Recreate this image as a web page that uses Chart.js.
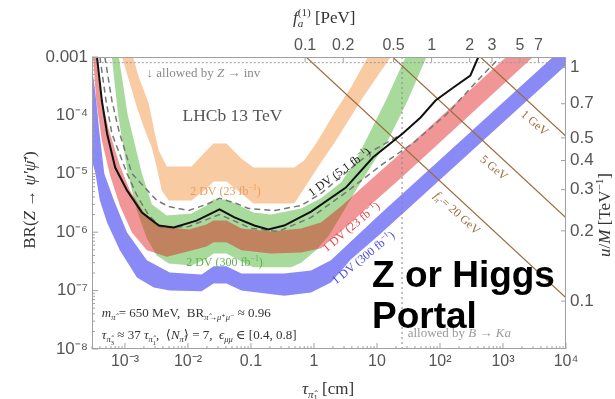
<!DOCTYPE html>
<html>
<head>
<meta charset="utf-8">
<script src="https://cdn.jsdelivr.net/npm/chart.js@4.4.1/dist/chart.umd.min.js"></script>
<style>
  html, body { margin: 0; padding: 0; background: #fff; }
  #wrap { position: relative; width: 615px; height: 399px; }
  #portal { position: absolute; left: 372px; top: 254px; font: bold 37px/41px "Liberation Sans", Arial, sans-serif; color: #000; }
</style>
</head>
<body>
<div id="wrap">
  <canvas id="chart" width="615" height="399"></canvas>
  <div id="portal">Z or Higgs<br>Portal</div>
</div>
<script>
(function(){
  // axis ranges and the two secondary-axis relations
  const TAU_MIN = 3.2e-4, TAU_MAX = 1e4;     // cm
  const BR_MIN = 1e-8, BR_MAX = 1e-3;
  const TAU_PER_FA2 = 75;     // tau [cm] at f_a = 1 PeV  (tau ~ f_a^2)
  const BR_AT_UM1 = 6.6e-4;   // BR at u/M = 1 TeV^-1    (BR ~ (u/M)^4)

  const tauTicks = [1e-3, 1e-2, 0.1, 1, 10, 100, 1e3, 1e4];
  const tauTickLabels = ['10⁻³', '10⁻²', '0.1', '1', '10', '10²', '10³', '10⁴'];
  const brTicks = [1e-8, 1e-7, 1e-6, 1e-5, 1e-4, 1e-3];
  const brTickLabels = ['10⁻⁸', '10⁻⁷', '10⁻⁶', '10⁻⁵', '10⁻⁴', '0.001'];
  const faTicks = [0.1, 0.2, 0.5, 1, 2, 3, 5, 7];
  const faTickLabels = ['0.1', '0.2', '0.5', '1', '2', '3', '5', '7'];
  const umTicks = [0.1, 0.2, 0.3, 0.4, 0.5, 0.7, 1];
  const umTickLabels = ['0.1', '0.2', '0.3', '0.4', '0.5', '0.7', '1'];

  // bands: [tau (cm), BR] along lower and upper edge, left to right
  const dv2Lumi23Lower = [[9.0e-4,1e-3],[1.2e-3,3.5e-4],[1.55e-3,1.36e-4],[2.0e-3,6.2e-5],[2.67e-3,2.8e-5],[3.2e-3,1.28e-5],[3.84e-3,5.2e-6],[4.96e-3,3.5e-6],[1.14e-2,3.5e-6],[1.97e-2,5.6e-6],[2.55e-2,7.4e-6],[4.09e-2,7.4e-6],[7.05e-2,4.6e-6],[0.109,3.1e-6],[0.485,3.1e-6],[0.698,5.6e-6],[1.2,1.39e-5],[2.23,3.7e-5],[5.97,2.03e-4],[16.5,1e-3]];
  const dv2Lumi23Upper = [[1.34e-3,1e-3],[1.66e-3,4.5e-4],[2.39e-3,1.6e-4],[2.98e-3,4.9e-5],[3.44e-3,2.5e-5],[4.61e-3,1.33e-5],[1.14e-2,1.33e-5],[1.97e-2,2.5e-5],[2.55e-2,3.3e-5],[4.09e-2,3.3e-5],[7.05e-2,1.83e-5],[0.109,1.28e-5],[0.485,1.28e-5],[0.698,1.69e-5],[1.08,3.3e-5],[2.23,1.21e-4],[3.85,3.0e-4],[7.16,1e-3]];

  const dv2Lumi300Lower = [[6.2e-4,1e-3],[7.8e-4,1e-4],[1.11e-3,1.01e-5],[1.55e-3,2.35e-6],[2.23e-3,7.8e-7],[3.2e-3,4.0e-7],[4.96e-3,2.9e-7],[1.14e-2,2.7e-7],[1.97e-2,3.5e-7],[2.55e-2,4.3e-7],[4.09e-2,4.3e-7],[7.05e-2,3.15e-7],[0.109,2.5e-7],[0.435,2.5e-7],[0.625,3.0e-7],[1.08,4.9e-7],[1.73,8.8e-7],[2.68,1.93e-6],[4.62,5.2e-6],[7.98,1.33e-5],[15.4,4.0e-5],[30.7,1.8e-4],[61.2,1e-3]];
  const dv2Lumi300Upper = [[8.0e-4,1e-3],[1.11e-3,1.0e-4],[1.86e-3,1.01e-5],[2.67e-3,3.0e-6],[4.61e-3,1.93e-6],[1.14e-2,2.09e-6],[1.97e-2,2.86e-6],[2.55e-2,3.63e-6],[4.09e-2,3.63e-6],[7.05e-2,2.75e-6],[0.109,2.17e-6],[0.21,2.01e-6],[0.625,2.55e-6],[1.29,3.8e-6],[2.68,7.1e-6],[4.62,1.69e-5],[6.65,3.7e-5],[13.8,1.8e-4],[28.5,1e-3]];

  const dv1Lumi23Lower = [[3.12e-4,1e-3],[3.5e-4,1.8e-4],[4.3e-4,3.7e-5],[5.8e-4,9.4e-6],[8.3e-4,2.86e-6],[1.29e-3,9.9e-7],[2.23e-3,4.9e-7],[4.61e-3,3.8e-7],[1.03e-2,4.7e-7],[1.97e-2,5.7e-7],[2.55e-2,6.7e-7],[4.09e-2,6.7e-7],[7.05e-2,4.9e-7],[0.21,4.3e-7],[0.625,4.5e-7],[1.29,5.3e-7],[2.68,1.03e-6],[7.42,2.75e-6],[25.6,9.0e-6],[3000,1e-3]];
  const dv1Lumi23Upper = [[3.6e-4,1e-3],[4.3e-4,1.8e-4],[5.6e-4,5.5e-5],[8.3e-4,1.39e-5],[1.2e-3,5.2e-6],[2.0e-3,2.17e-6],[3.84e-3,1.25e-6],[1.03e-2,1.11e-6],[1.97e-2,1.36e-6],[2.55e-2,1.58e-6],[4.09e-2,1.58e-6],[7.05e-2,1.16e-6],[0.21,1.03e-6],[0.625,1.16e-6],[1.29,1.47e-6],[2.68,2.75e-6],[7.42,7.4e-6],[25.6,2.4e-5],[1125,1e-3]];

  const dv1Lumi300Lower = [[3.0e-4,1.69e-5],[3.4e-4,1.01e-5],[4.0e-4,3.5e-6],[5.2e-4,1.47e-6],[8.3e-4,4.9e-7],[1.55e-3,1.68e-7],[2.87e-3,1.13e-7],[5.14e-3,1.0e-7],[1.65e-2,9.7e-8],[2.55e-2,1.32e-7],[4.09e-2,1.32e-7],[7.05e-2,1.0e-7],[0.337,8.2e-8],[0.9,9.3e-8],[1.86,1.38e-7],[3.85,3.4e-7],[11.5,9.5e-7],[1.4e4,1e-3]];
  const dv1Lumi300Upper = [[3.0e-4,5.9e-4],[3.2e-4,4.0e-4],[3.5e-4,1.8e-4],[3.9e-4,5.5e-5],[4.7e-4,1.01e-5],[6.7e-4,3.5e-6],[1.08e-3,9.9e-7],[2.23e-3,3.3e-7],[5.14e-3,2.04e-7],[1.65e-2,1.89e-7],[2.55e-2,2.6e-7],[4.09e-2,2.6e-7],[7.05e-2,1.96e-7],[0.337,1.96e-7],[0.9,2.2e-7],[1.86,3.3e-7],[3.85,6.9e-7],[11.5,2.09e-6],[6210,1e-3]];

  // curves
  const dv1Lumi51 = [[3.6e-4,1e-3],[4.3e-4,1.8e-4],[5.2e-4,4.9e-5],[7.0e-4,1.28e-5],[1.08e-3,5.2e-6],[1.86e-3,2.17e-6],[3.44e-3,1.3e-6],[5.94e-3,1.2e-6],[1.37e-2,1.58e-6],[3.17e-2,2.45e-6],[5.47e-2,1.79e-6],[0.113,1.3e-6],[0.188,1.11e-6],[0.337,1.3e-6],[0.9,2.26e-6],[3.21,5.8e-6],[8.59,1.9e-5],[25.6,4.9e-5],[49.2,9.2e-5],[84.9,1.8e-4],[163,3.0e-4],[303,4.8e-4],[406,1e-3]];
  const dashedUpper = [[4.8e-4,1e-3],[6.2e-4,1.8e-4],[8.0e-4,5.5e-5],[1.29e-3,1.01e-5],[2.07e-3,5.8e-6],[3.2e-3,3.5e-6],[4.96e-3,2.75e-6],[1.03e-2,2.35e-6],[1.97e-2,3.0e-6],[3.17e-2,3.8e-6],[5.88e-2,3.1e-6],[9.1e-2,2.55e-6],[0.234,2.35e-6],[0.625,2.86e-6],[1.29,4.6e-6],[3.21,1.05e-5],[8.59,2.5e-5],[25.6,4.9e-5]];
  const dashedLower = [[4.0e-4,1e-3],[5.0e-4,1.8e-4],[6.2e-4,4.9e-5],[1.08e-3,1.01e-5],[1.55e-3,4.25e-6],[2.39e-3,1.93e-6],[3.84e-3,1.2e-6],[1.03e-2,1.25e-6],[3.17e-2,2.01e-6],[0.101,1.16e-6],[0.271,1.03e-6],[0.9,1.79e-6],[3.21,4.8e-6],[11.5,1.39e-5],[38.1,3.4e-5],[131,1.08e-4],[437,4.46e-4],[903,1e-3]];

  // constant f_pi lines
  const fpi20 = [[0.75,1e-3],[1e4,7.5e-8]];
  const fpi5 = [[17.7,1e-3],[1e4,1.77e-6]];
  const fpi1 = [[437,1e-3],[1e4,4.37e-5]];

  // exclusion boundaries
  const zInvBR = 8e-4;
  const bKaTau = 25;

  const toPts = arr => arr.map(([x, y]) => ({x, y}));
  const closed = (lower, upper) => toPts(lower.concat(upper.slice().reverse()));

  function band(lower, upper, color, order) {
    return { data: closed(lower, upper), fill: 'shape', backgroundColor: color,
      borderWidth: 0, borderColor: 'rgba(0,0,0,0)', pointRadius: 0, order };
  }
  function curve(arr, color, width, dash, order) {
    return { data: toPts(arr), fill: false, borderColor: color, borderWidth: width,
      borderDash: dash, pointRadius: 0, tension: 0, order };
  }

  const datasets = [
    band(dv2Lumi23Lower, dv2Lumi23Upper, '#f9cba2', 10),
    band(dv2Lumi300Lower, dv2Lumi300Upper, '#a8da9c', 9),
    band(dv1Lumi23Lower, dv1Lumi23Upper, 'rgba(222,22,22,0.45)', 8),
    band(dv1Lumi300Lower, dv1Lumi300Upper, '#8a8af6', 7),
    curve(fpi20, '#9c6b3c', 1.2, [], 5),
    curve(fpi5, '#9c6b3c', 1.2, [], 5),
    curve(fpi1, '#9c6b3c', 1.2, [], 5),
    curve([[TAU_MIN, zInvBR], [TAU_MAX, zInvBR]], '#999', 1, [2, 2], 4),
    curve([[bKaTau, BR_MIN], [bKaTau, BR_MAX]], '#888', 1, [2, 3], 4),
    curve(dashedUpper, '#777', 1.5, [6, 4], 3),
    curve(dashedLower, '#777', 1.5, [6, 4], 3),
    curve(dv1Lumi51, '#111', 2, [], 1)
  ];

  // rich text: [text, kind, stackedSup]
  const SERIF = '"Liberation Serif", "DejaVu Serif", serif';
  const KINDS = {
    n:  {scale: 1,    dy: 0,    it: false},
    i:  {scale: 1,    dy: 0,    it: true},
    p:  {scale: 0.65, dy: -0.4, it: false},
    s:  {scale: 0.65, dy: 0.25, it: false},
    si: {scale: 0.65, dy: 0.25, it: true},
    ss: {scale: 0.5,  dy: 0.42, it: false}
  };
  function setFont(ctx, k, size) {
    ctx.font = (k.it ? 'italic ' : '') + (size * k.scale).toFixed(1) + 'px ' + SERIF;
  }
  function partWidth(ctx, part, size) {
    setFont(ctx, KINDS[part[1]], size);
    let w = ctx.measureText(part[0]).width;
    if (part[2]) { setFont(ctx, KINDS.p, size); w = Math.max(w, ctx.measureText(part[2]).width); }
    return w;
  }
  function drawRich(ctx, parts, x, y, size, color, align, deg) {
    ctx.save();
    ctx.translate(x, y);
    ctx.rotate((deg || 0) * Math.PI / 180);
    ctx.fillStyle = color;
    ctx.textBaseline = 'alphabetic';
    const total = parts.reduce((s, p) => s + partWidth(ctx, p, size), 0);
    let cx = align === 'center' ? -total / 2 : align === 'right' ? -total : 0;
    const base = size * 0.35;
    parts.forEach(p => {
      const k = KINDS[p[1]];
      const w = partWidth(ctx, p, size);
      setFont(ctx, k, size);
      ctx.fillText(p[0], cx, k.dy * size + base);
      if (p[2]) { setFont(ctx, KINDS.p, size); ctx.fillText(p[2], cx, KINDS.p.dy * size + base); }
      cx += w;
    });
    ctx.restore();
  }

  // in-plot labels at [tau, BR]
  const notes = [
    {parts: [['↓ allowed by ', 'n'], ['Z', 'i'], [' → inv', 'n']], at: [2.2e-3, 5.4e-4], size: 13, color: '#8a8a8a', align: 'left'},
    {parts: [['LHCb 13 TeV', 'n']], at: [0.0508, 1.02e-4], size: 17.5, color: '#555', align: 'center'},
    {parts: [['2 DV (23 fb', 'n'], ['−1', 'p'], [')', 'n']], at: [0.0394, 5.2e-6], size: 12, color: '#eb9d5c', align: 'center'},
    {parts: [['2 DV (300 fb', 'n'], ['−1', 'p'], [')', 'n']], at: [0.038, 3.15e-7], size: 12, color: '#5fb34f', align: 'center'},
    {parts: [['1 DV (5.1 fb', 'n'], ['−1', 'p'], [')', 'n']], at: [2.5, 1.09e-5], size: 12, color: '#222', align: 'center', deg: -36},
    {parts: [['1 DV (23 fb', 'n'], ['−1', 'p'], [')', 'n']], at: [3.85, 1.25e-6], size: 12, color: '#e0484a', align: 'center', deg: -40},
    {parts: [['1 DV (300 fb', 'n'], ['−1', 'p'], [')', 'n']], at: [5.97, 3.7e-7], size: 12, color: '#4a4ae6', align: 'center', deg: -39},
    {parts: [['f', 'i'], ['π̂', 'si'], [' = 20 GeV', 'n']], at: [189, 2.17e-6], size: 12, color: '#9c6b3c', align: 'center', deg: 42},
    {parts: [['5 GeV', 'n']], at: [726, 1.28e-5], size: 12, color: '#9c6b3c', align: 'center', deg: 40},
    {parts: [['1 GeV', 'n']], at: [3230, 7.55e-5], size: 12, color: '#9c6b3c', align: 'center', deg: 41},
    {parts: [['m', 'i'], ['π̂', 'si'], [' = 650 MeV,  BR', 'n'], ['π̂→μ⁺μ⁻', 'si'], [' ≈ 0.96', 'n']], at: [4.3e-4, 4.2e-8], size: 13, color: '#333', align: 'left'},
    {parts: [['τ', 'i'], ['π̂', 'si'], ['3', 'ss'], [' ≈ 37 ', 'n'], ['τ', 'i'], ['π̂', 'si'], ['1', 'ss'], [',  ⟨', 'n'], ['N', 'i'], ['π̂', 'si'], ['⟩ = 7,  ', 'n'], ['ϵ', 'i'], ['μμ', 'si'], [' ∈ [0.4, 0.8]', 'n']], at: [4.3e-4, 1.77e-8], size: 13, color: '#333', align: 'left'},
    {parts: [['allowed by ', 'n'], ['B', 'i'], [' → ', 'n'], ['Ka', 'i']], at: [30.7, 1.92e-8], size: 13, color: '#9a9a9a', align: 'left'}
  ];

  function tickSet(from, to) {
    const major = [], minor = [];
    for (let e = from; e <= to; e++) {
      major.push(Math.pow(10, e));
      for (let k = 2; k <= 9; k++) minor.push(k * Math.pow(10, e));
    }
    return {major, minor};
  }

  const decor = {
    id: 'decor',
    afterDatasetsDraw(chart) {
      const {ctx, chartArea: a, scales} = chart;
      ctx.save();
      ctx.strokeStyle = '#a0a0a0';
      ctx.lineWidth = 1;
      ctx.strokeRect(a.left + 0.5, a.top + 0.5, a.right - a.left - 1, a.bottom - a.top - 1);
      const inX = (s, v) => { const p = s.getPixelForValue(v); return p >= a.left - 0.5 && p <= a.right + 0.5 ? p : null; };
      const inY = (s, v) => { const p = s.getPixelForValue(v); return p >= a.top - 0.5 && p <= a.bottom + 0.5 ? p : null; };
      ctx.beginPath();
      const xt = tickSet(-4, 4);
      xt.major.forEach(v => { const p = inX(scales.x, v); if (p !== null) { ctx.moveTo(p, a.bottom); ctx.lineTo(p, a.bottom - 6); } });
      xt.minor.forEach(v => { const p = inX(scales.x, v); if (p !== null) { ctx.moveTo(p, a.bottom); ctx.lineTo(p, a.bottom - 3); } });
      const yt = tickSet(-8, -3);
      yt.major.forEach(v => { const p = inY(scales.y, v); if (p !== null) { ctx.moveTo(a.left, p); ctx.lineTo(a.left + 6, p); } });
      yt.minor.forEach(v => { const p = inY(scales.y, v); if (p !== null) { ctx.moveTo(a.left, p); ctx.lineTo(a.left + 3, p); } });
      faTicks.forEach(v => { const p = inX(scales.x2, v); if (p !== null) { ctx.moveTo(p, a.top); ctx.lineTo(p, a.top + 5); } });
      umTicks.forEach(v => { const p = inY(scales.y2, v); if (p !== null) { ctx.moveTo(a.right, p); ctx.lineTo(a.right - 5, p); } });
      ctx.stroke();

      notes.forEach(n => {
        const x = scales.x.getPixelForValue(n.at[0]);
        const y = scales.y.getPixelForValue(n.at[1]);
        drawRich(ctx, n.parts, x, y, n.size, n.color, n.align, n.deg);
      });
      ctx.restore();
    },
    afterDraw(chart) {
      const {ctx} = chart;
      drawRich(ctx, [['f', 'i'], ['a', 'si', '(1)'], [' [PeV]', 'n']], 293, 17, 17, '#333', 'left');
      drawRich(ctx, [['τ', 'i'], ['π̂', 'si'], ['1', 'ss'], [' [cm]', 'n']], 328, 388, 17, '#333', 'center');
      drawRich(ctx, [['BR(', 'n'], ['Z', 'i'], [' → ', 'n'], ['ψ′ψ̄′', 'i'], [')', 'n']], 29, 200, 17, '#333', 'center', -90);
      drawRich(ctx, [['u', 'i'], ['/', 'n'], ['M', 'i'], [' [TeV', 'n'], ['−1', 'p'], [']', 'n']], 604, 215, 17, '#333', 'center', -90);
    }
  };

  const tickFont = {family: "'Liberation Sans', Arial, sans-serif", size: 17};
  function logAxis(position, min, max, values, labels, pad, fit, size) {
    return {
      type: 'logarithmic', position, min, max,
      grid: {display: false, drawTicks: false},
      border: {display: false},
      afterBuildTicks: s => { s.ticks = values.map(v => ({value: v})); },
      afterFit: fit,
      ticks: {
        autoSkip: false, maxRotation: 0, minRotation: 0, padding: pad,
        color: '#555', font: Object.assign({}, tickFont, size ? {size} : {}),
        callback: (v, i) => labels[i]
      }
    };
  }

  new Chart(document.getElementById('chart'), {
    type: 'line',
    data: {datasets},
    options: {
      responsive: false,
      animation: false,
      events: [],
      layout: {padding: 0},
      plugins: {legend: {display: false}, tooltip: {enabled: false}},
      scales: {
        x: logAxis('bottom', TAU_MIN, TAU_MAX, tauTicks, tauTickLabels, 3, s => { s.height = 50; }, 16),
        x2: Object.assign(logAxis('top', Math.sqrt(TAU_MIN / TAU_PER_FA2), Math.sqrt(TAU_MAX / TAU_PER_FA2),
          faTicks, faTickLabels, 2, s => { s.height = 57; }, 16), {axis: 'x'}),
        y: logAxis('left', BR_MIN, BR_MAX, brTicks, brTickLabels, 4, s => { s.width = 92; }),
        y2: Object.assign(logAxis('right', Math.pow(BR_MIN / BR_AT_UM1, 0.25), Math.pow(BR_MAX / BR_AT_UM1, 0.25),
          umTicks, umTickLabels, 4, s => { s.width = 49; }), {axis: 'y'})
      }
    },
    plugins: [decor]
  });
})();
</script>
</body>
</html>
